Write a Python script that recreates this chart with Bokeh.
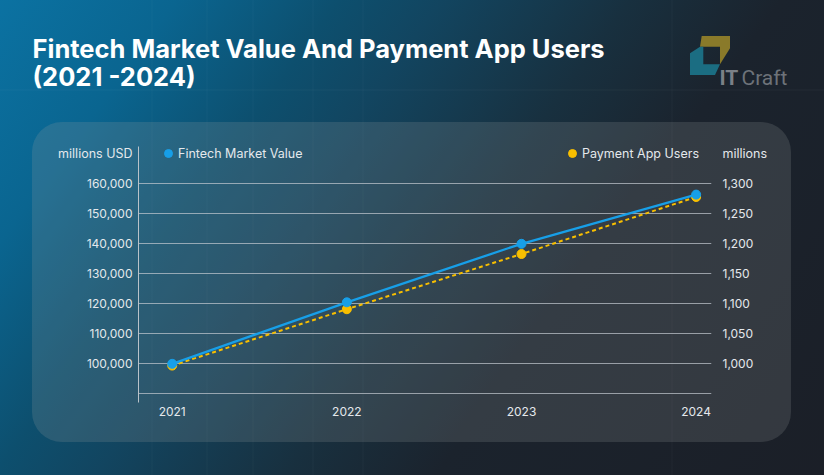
from urllib.parse import quote
from bokeh.plotting import figure
from bokeh.models import (Range1d, LinearAxis, FixedTicker, NumeralTickFormatter, Label,
                          Legend, LegendItem)
from bokeh.embed import file_html
from bokeh.resources import INLINE

# ---- data ----
years = [2021, 2022, 2023, 2024]
market_value = [100000, 120500, 140000, 156400]      # millions USD
app_users = [997, 1091, 1183, 1278]                   # millions
left_ticks = [100000, 110000, 120000, 130000, 140000, 150000, 160000]
right_ticks = [1000, 1050, 1100, 1150, 1200, 1250, 1300]
grid_ticks = [90000, 100000, 110000, 120000, 130000, 140000, 150000, 160000]
x_labels = {2021: "2021", 2022: "2022", 2023: "2023", 2024: "2024"}

title_1 = "Fintech Market Value And Payment App Users"
title_2 = "(2021 -2024)"
left_unit = "millions USD"
right_unit = "millions"
series_1 = "Fintech Market Value"
series_2 = "Payment App Users"

W, H = 824, 475
BLUE = "#179fe8"
YELLOW = "#f8bf00"
TXT = "#e4e8ec"
FONT = "Inter"

# ---- decorative backdrop (page gradient, rounded panel, logo shapes) ----
gold = [(701.7, 36), (730, 36), (730, 48.3), (720, 64.3), (720, 46.7), (700, 46.7)]
teal = [(690, 53.3), (700, 46.7), (703.3, 46.7), (703.3, 64.3), (720, 64.3), (715, 75), (690, 75)]


def pts(ps):
    return " ".join(f"{a},{b}" for a, b in ps)


faint = "".join(f'<line x1="{x}" y1="0" x2="{x}" y2="{H}" stroke="#ffffff" stroke-opacity="0.035"/>'
                for x in (152, 207, 253, 313, 363, 672))
faint += f'<line x1="0" y1="90" x2="{W}" y2="90" stroke="#ffffff" stroke-opacity="0.04"/>'

svg = (
    f'<svg xmlns="http://www.w3.org/2000/svg" width="{W}" height="{H}">'
    '<defs><linearGradient id="g" gradientUnits="userSpaceOnUse" x1="0" y1="0" x2="824" y2="600">'
    '<stop offset="0" stop-color="#0b72a2"/>'
    '<stop offset="0.14" stop-color="#0a6590"/>'
    '<stop offset="0.27" stop-color="#0d4f6e"/>'
    '<stop offset="0.35" stop-color="#124560"/>'
    '<stop offset="0.5" stop-color="#18303f"/>'
    '<stop offset="0.62" stop-color="#1b232d"/>'
    '<stop offset="1" stop-color="#1b1e26"/>'
    '</linearGradient></defs>'
    f'<rect width="{W}" height="{H}" fill="url(#g)"/>'
    + faint +
    '<rect x="32" y="122" width="759" height="320" rx="30" ry="30" fill="#9aa0a0" fill-opacity="0.2"/>'
    f'<polygon points="{pts(gold)}" fill="#8a7a2a"/>'
    f'<polygon points="{pts(teal)}" fill="#1b6d82"/>'
    '</svg>'
)
bg_css = f'url("data:image/svg+xml,{quote(svg)}") no-repeat 0 0 / {W}px {H}px'

p = figure(width=W, height=H, output_backend="svg", toolbar_location=None,
           x_range=Range1d(2020.807, 2024.088), y_range=Range1d(87100, 172433),
           min_border_left=138, min_border_right=113, min_border_top=146,
           min_border_bottom=73)
p.title.visible = False
p.background_fill_alpha = 0
p.border_fill_alpha = 0
p.outline_line_color = None
p.styles = {"background": bg_css}
p.extra_y_ranges = {"right": Range1d(935.5, 1362.2)}

# grid
p.xgrid.visible = False
p.ygrid.ticker = FixedTicker(ticks=grid_ticks)
p.ygrid.grid_line_color = "#c4cbd1"
p.ygrid.grid_line_alpha = 0.7
p.ygrid.grid_line_width = 1

# axes
xa = p.xaxis[0]
xa.ticker = FixedTicker(ticks=years)
xa.major_label_overrides = x_labels
xa.axis_line_color = None
xa.major_tick_line_color = None
xa.minor_tick_line_color = None
xa.major_tick_out = 0
xa.major_label_standoff = 4
xa.major_label_text_font = FONT
xa.major_label_text_font_size = "12px"
xa.major_label_text_color = TXT

ya = p.yaxis[0]
ya.ticker = FixedTicker(ticks=left_ticks)
ya.formatter = NumeralTickFormatter(format="0,0")
ya.axis_line_color = "#b9c2c9"
ya.axis_line_width = 1
ya.major_tick_line_color = None
ya.minor_tick_line_color = None
ya.major_tick_out = 0
ya.major_label_standoff = 6
ya.major_label_text_font = FONT
ya.major_label_text_font_size = "12px"
ya.major_label_text_color = TXT

ra = LinearAxis(y_range_name="right", ticker=FixedTicker(ticks=right_ticks),
                formatter=NumeralTickFormatter(format="0,0"))
ra.axis_line_color = None
ra.major_tick_line_color = None
ra.minor_tick_line_color = None
ra.major_tick_out = 0
ra.major_label_standoff = 11
ra.major_label_text_font = FONT
ra.major_label_text_font_size = "12px"
ra.major_label_text_color = TXT
p.add_layout(ra, "right")

# series
p.line(years, app_users, y_range_name="right", line_color=YELLOW, line_width=2,
       line_dash="4 3")
s2 = p.scatter(years, app_users, y_range_name="right", size=9, fill_color=YELLOW,
               line_color=YELLOW)
p.line(years, market_value, line_color=BLUE, line_width=2.3)
s1 = p.scatter(years, market_value, size=9, fill_color=BLUE, line_color=BLUE)


def make_legend(label, r, x):
    lg = Legend(items=[LegendItem(label=label, renderers=[r])], location=(x, 239),
                label_text_font=FONT, label_text_font_size="12.5px", label_text_color=TXT,
                glyph_width=20, glyph_height=20, label_height=20, label_standoff=0,
                padding=0, spacing=0, margin=0, border_line_alpha=0,
                background_fill_alpha=0)
    p.add_layout(lg)


make_legend(series_1, s1, 20)
make_legend(series_2, s2, 424)


# texts outside the frame: placed in side panels so they are not clipped
def add_text(x, y, text, side="above", **kw):
    lab = Label(x=x, y=y, x_units="canvas", y_units="canvas", text=text, **kw)
    p.add_layout(lab, side)


add_text(32, 48, title_1, text_font=FONT, text_font_style="bold", text_font_size="25.5px",
         text_color="white", text_baseline="alphabetic")
add_text(32, 76, title_2, text_font=FONT, text_font_style="bold", text_font_size="25.5px",
         text_color="white", text_baseline="alphabetic")
add_text(132, 153, left_unit, text_font=FONT, text_font_size="12.5px", text_color=TXT,
         text_align="right", text_baseline="middle")
add_text(722, 153, right_unit, side="right", text_font=FONT, text_font_size="12.5px",
         text_color=TXT, text_align="left", text_baseline="middle")
add_text(719, 77, "IT", text_font="Roboto", text_font_style="bold", text_font_size="21px",
         text_color="#7b8087", text_baseline="alphabetic")
add_text(741, 77, "Craft", text_font="Roboto", text_font_size="21px",
         text_color="#6d7279", text_baseline="alphabetic")

open("out.html", "w").write(file_html(p, INLINE))
